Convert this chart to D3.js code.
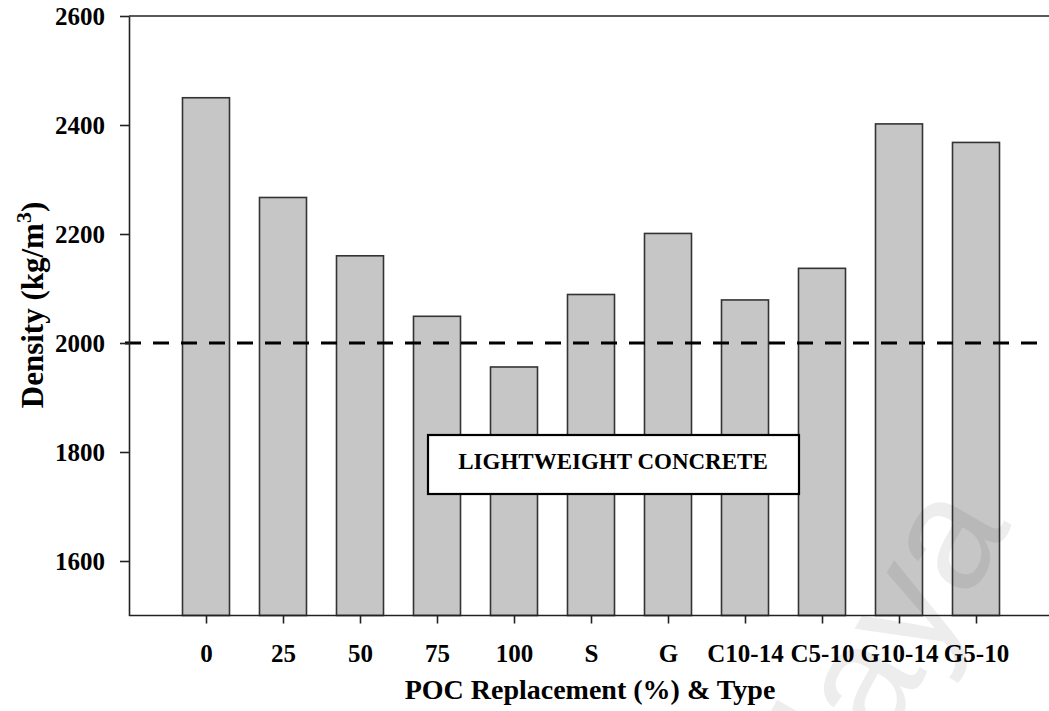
<!DOCTYPE html>
<html>
<head>
<meta charset="utf-8">
<script src="https://cdn.jsdelivr.net/npm/d3@7"></script>
<style>
  body { margin: 0; background: #fff; }
  svg text { font-family: "Liberation Serif", "Times New Roman", serif; font-weight: bold; }
</style>
</head>
<body>
<script>
// chart values
var categories = ["0", "25", "50", "75", "100", "S", "G", "C10-14", "C5-10", "G10-14", "G5-10"];
var density = [2450, 2267, 2160, 2049, 1956, 2089, 2201, 2079, 2137, 2402, 2368];
var yTicks = [1600, 1800, 2000, 2200, 2400, 2600];
var lwcLimit = 2000;

var width = 1049, height = 711;

var svg = d3.select("body")
    .append("svg")
    .attr("width", width)
    .attr("height", height);

var x = d3.scalePoint()
    .domain(categories)
    .range([129, 1053])
    .padding(1);

var y = d3.scaleLinear()
    .domain([1500, 2600])
    .range([615.5, 16]);

var barW = 47;

// bars
svg.selectAll("rect.bar")
    .data(categories)
    .enter()
    .append("rect")
    .attr("class", "bar")
    .attr("x", function(d){ return x(d) - barW / 2; })
    .attr("y", function(d, i){ return y(density[i]); })
    .attr("width", barW)
    .attr("height", function(d, i){ return y(1500) - y(density[i]); })
    .attr("fill", "#c6c6c6")
    .attr("stroke", "#333")
    .attr("stroke-width", 1.6);

// 2000 kg/m3 limit line
svg.append("line")
    .attr("x1", 125)
    .attr("x2", width)
    .attr("y1", y(lwcLimit))
    .attr("y2", y(lwcLimit))
    .attr("stroke", "#000")
    .attr("stroke-width", 3.2)
    .attr("stroke-dasharray", "16,12");

// top frame line
svg.append("line")
    .attr("x1", 129).attr("x2", width)
    .attr("y1", y(2600)).attr("y2", y(2600))
    .attr("stroke", "#222").attr("stroke-width", 1.6);

// y axis
var yAxis = svg.append("g")
    .attr("transform", "translate(129,0)")
    .call(d3.axisLeft(y).tickValues(yTicks).tickFormat(d3.format("d"))
        .tickSize(9).tickPadding(15).tickSizeOuter(0));
yAxis.select(".domain").attr("stroke", "#222").attr("stroke-width", 1.6);
yAxis.selectAll(".tick line").attr("stroke", "#222").attr("stroke-width", 1.6);
yAxis.selectAll("text").attr("font-size", 25).attr("fill", "#000")
    .attr("font-family", "Liberation Serif").attr("font-weight", "bold");

// x axis
var xAxis = svg.append("g")
    .attr("transform", "translate(0," + y(1500) + ")")
    .call(d3.axisBottom(x).tickSize(8).tickPadding(21).tickSizeOuter(0));
xAxis.select(".domain").attr("stroke", "#222").attr("stroke-width", 1.6)
    .attr("d", "M129,0H" + width);
xAxis.selectAll(".tick line").attr("stroke", "#222").attr("stroke-width", 1.6);
xAxis.selectAll("text").attr("font-size", 25).attr("fill", "#000")
    .attr("font-family", "Liberation Serif").attr("font-weight", "bold");

// axis titles
svg.append("text")
    .attr("x", 590)
    .attr("y", 699)
    .attr("text-anchor", "middle")
    .attr("font-size", 28)
    .text("POC Replacement (%) & Type");

var yt = svg.append("text")
    .attr("transform", "translate(43,305) rotate(-90)")
    .attr("text-anchor", "middle")
    .attr("font-size", 31);
yt.append("tspan").text("Density (kg/m");
yt.append("tspan").attr("dy", -12).attr("font-size", 22).text("3");
yt.append("tspan").attr("dy", 12).text(")");

// lightweight concrete label
svg.append("rect")
    .attr("x", 428)
    .attr("y", 435)
    .attr("width", 371)
    .attr("height", 59)
    .attr("fill", "#fff")
    .attr("stroke", "#000")
    .attr("stroke-width", 2.2);
svg.append("text")
    .attr("x", 613)
    .attr("y", 469)
    .attr("text-anchor", "middle")
    .attr("font-size", 23)
    .text("LIGHTWEIGHT CONCRETE");

// faint watermark
svg.append("text")
    .attr("transform", "translate(1012,525) rotate(-60)")
    .attr("text-anchor", "end")
    .style("font-family", "Liberation Sans, Arial, sans-serif")
    .style("font-weight", "normal")
    .attr("font-size", 160)
    .attr("fill", "#000")
    .attr("fill-opacity", 0.07)
    .text("Malaya");
</script>
</body>
</html>
